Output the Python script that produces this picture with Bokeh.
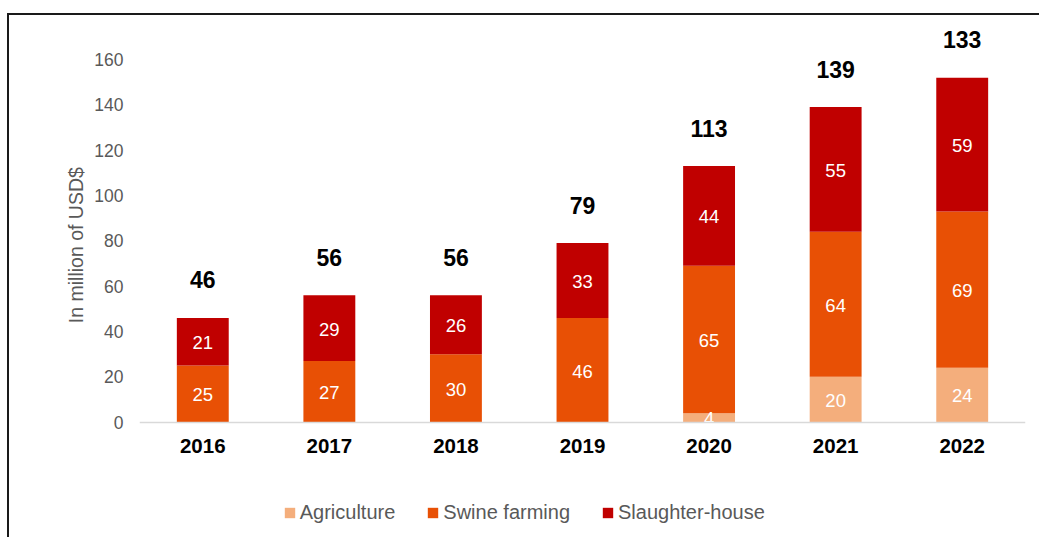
from bokeh.plotting import figure
from bokeh.models import ColumnDataSource, FactorRange, FixedTicker, Legend, LegendItem, Title
from bokeh.core.properties import value
from bokeh.embed import file_html
from bokeh.resources import INLINE

# ---- data ----
years = ["2016", "2017", "2018", "2019", "2020", "2021", "2022"]
agriculture = [0, 0, 0, 0, 4, 20, 24]
swine_farming = [25, 27, 30, 46, 65, 64, 69]
slaughter_house = [21, 29, 26, 33, 44, 55, 59]
total_labels = ["46", "56", "56", "79", "113", "139", "133"]
y_ticks = [0, 20, 40, 60, 80, 100, 120, 140, 160]
series_names = ["Agriculture", "Swine farming", "Slaughter-house"]
series_colors = ["#F4AE7C", "#E85005", "#C00000"]
y_axis_title = "In million of USD$"

FONT = "Liberation Sans"

p = figure(x_range=FactorRange(*years, range_padding=0), y_range=(-50.86, 177.2),
           width=1039, height=537, output_backend="svg", toolbar_location=None,
           min_border_left=139, min_border_right=14, min_border_top=20,
           min_border_bottom=0)
p.x_range.range_padding = 0
p.outline_line_color = None
p.grid.grid_line_color = None
p.border_fill_color = None
p.styles = {
    "background-image": "linear-gradient(#1a1a1a, #1a1a1a), linear-gradient(#1a1a1a, #1a1a1a)",
    "background-size": "2px 100%, 100% 2px",
    "background-position": "7px 13px, 7px 13px",
    "background-repeat": "no-repeat",
}

series = [agriculture, swine_farming, slaughter_house]
bottoms = [0] * len(years)
renderers = []
label_x, label_y, label_t = [], [], []
for name, vals, col in zip(series_names, series, series_colors):
    tops = [b + v for b, v in zip(bottoms, vals)]
    src = ColumnDataSource(dict(x=years, bottom=bottoms, top=tops))
    r = p.vbar(x="x", bottom="bottom", top="top", width=0.41, source=src,
               fill_color=col, line_color=None)
    renderers.append(r)
    for yr, b, v in zip(years, bottoms, vals):
        if v > 0:
            label_x.append(yr)
            label_y.append(b + v / 2)
            label_t.append(str(v))
    bottoms = tops

inner = ColumnDataSource(dict(x=label_x, y=label_y, t=label_t))
p.text(x="x", y="y", text="t", source=inner, text_color="white",
       text_font=value(FONT), text_font_size="18.5px", text_align="center",
       text_baseline="middle", y_offset=1)

tot = ColumnDataSource(dict(x=years, y=bottoms, t=total_labels))
p.text(x="x", y="y", text="t", source=tot, text_color="black",
       text_font=value(FONT), text_font_size="23px", text_font_style="bold",
       text_align="center", text_baseline="alphabetic", y_offset=-38)

# axes
p.yaxis.ticker = FixedTicker(ticks=y_ticks)
p.yaxis.axis_line_color = None
p.yaxis.major_tick_line_color = None
p.yaxis.minor_tick_line_color = None
p.yaxis.major_tick_out = 0
p.yaxis.major_label_standoff = 16
p.yaxis.major_label_text_font = FONT
p.yaxis.major_label_text_font_size = "17.5px"
p.yaxis.major_label_text_color = "#595959"

ytitle = Title(text=y_axis_title, align="left", offset=214.3, standoff=10,
               text_font=FONT, text_font_size="19.5px", text_font_style="normal",
               text_color="#595959")
p.add_layout(ytitle, "left")

p.xaxis.fixed_location = 0
p.xaxis.axis_line_color = "#D9D9D9"
p.xaxis.axis_line_width = 1.5
p.xaxis.major_tick_line_color = None
p.xaxis.minor_tick_line_color = None
p.xaxis.major_tick_out = 0
p.xaxis.major_label_standoff = 17
p.xaxis.major_label_text_font = FONT
p.xaxis.major_label_text_font_size = "20.5px"
p.xaxis.major_label_text_font_style = "bold"
p.xaxis.major_label_text_color = "black"

legend = Legend(items=[LegendItem(label=n, renderers=[r]) for n, r in zip(series_names, renderers)],
                orientation="horizontal", location=(143.7, 12.8),
                label_text_font=FONT, label_text_font_size="20px",
                label_text_color="#595959", glyph_width=13, glyph_height=13,
                label_standoff=4, spacing=31, padding=0, margin=0,
                border_line_color=None, background_fill_alpha=0)
p.add_layout(legend)

open("out.html", "w").write(file_html(p, INLINE))
